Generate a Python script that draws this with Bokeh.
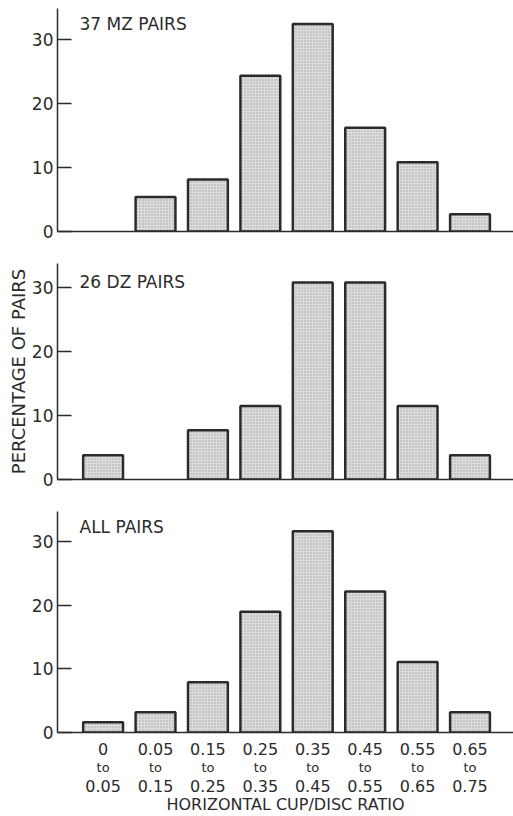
from bokeh.plotting import figure
from bokeh.models import Range1d, FixedTicker, LinearAxis, Label, ColumnDataSource
from bokeh.layouts import column
from bokeh.embed import file_html
from bokeh.resources import INLINE

# ---- data ----
bin_low = ["0", "0.05", "0.15", "0.25", "0.35", "0.45", "0.55", "0.65"]
bin_high = ["0.05", "0.15", "0.25", "0.35", "0.45", "0.55", "0.65", "0.75"]
mz_pct = [0, 5.4, 8.1, 24.3, 32.4, 16.2, 10.8, 2.7]
dz_pct = [3.8, 0, 7.7, 11.5, 30.8, 30.8, 11.5, 3.8]
all_pct = [1.6, 3.2, 7.9, 19.0, 31.7, 22.2, 11.1, 3.2]
panel_titles = ["37 MZ PAIRS", "26 DZ PAIRS", "ALL PAIRS"]
y_ticks = [0, 10, 20, 30]
y_label = "PERCENTAGE OF PAIRS"
x_label = "HORIZONTAL CUP/DISC RATIO"

INK = "#2b2b2b"
FONT = "DejaVu Sans"
W = 513
XR = (-0.87, 7.83)
positions = list(range(len(bin_low)))


def make_panel(values, title, height, border_top, border_bottom, y_end, title_y,
               show_ylabel=False):
    p = figure(width=W, height=height, output_backend="svg", toolbar_location=None,
               x_range=Range1d(*XR), y_range=Range1d(0, y_end),
               min_border_left=57, min_border_right=0,
               min_border_top=border_top, min_border_bottom=border_bottom)
    p.outline_line_color = None
    p.grid.visible = False
    p.background_fill_color = "white"
    p.border_fill_color = "white"

    xs = [x for x, v in zip(positions, values) if v > 0]
    vs = [v for v in values if v > 0]
    src = ColumnDataSource(dict(x=xs, top=vs))
    p.vbar(x="x", top="top", bottom=0, width=0.76, source=src,
           fill_color="#dcdcdc", line_color=INK, line_width=2.5,
           hatch_pattern="dot", hatch_color="#8c8c8c", hatch_scale=3,
           hatch_weight=0.7, hatch_alpha=0.7)

    ya = p.yaxis[0]
    ya.ticker = FixedTicker(ticks=y_ticks)
    ya.axis_line_color = INK
    ya.axis_line_width = 1.5
    ya.major_tick_in = 14
    ya.major_tick_out = 0
    ya.major_tick_line_color = INK
    ya.major_tick_line_width = 1.5
    ya.minor_tick_line_color = None
    ya.major_label_standoff = 4
    ya.major_label_text_font = FONT
    ya.major_label_text_font_size = "17px"
    ya.major_label_text_color = INK
    if show_ylabel:
        ya.axis_label = y_label
        ya.axis_label_standoff = 0
        ya.axis_label_text_font = FONT
        ya.axis_label_text_font_size = "18px"
        ya.axis_label_text_font_style = "normal"
        ya.axis_label_text_color = INK

    xa = p.xaxis[0]
    xa.ticker = FixedTicker(ticks=positions)
    xa.axis_line_color = INK
    xa.axis_line_width = 1.5
    xa.major_tick_in = 0
    xa.major_tick_out = 0
    xa.minor_tick_line_color = None
    xa.major_label_text_font = FONT
    xa.major_label_text_color = INK

    p.add_layout(Label(x=-0.45, y=title_y, text=title, text_baseline="middle",
                       text_font=FONT, text_font_size="17px", text_color=INK))
    return p


top = make_panel(mz_pct, panel_titles[0], 247, 8, 16, 34.8, 32.45)
top.xaxis[0].ticker = FixedTicker(ticks=[])
top.xaxis[0].major_label_standoff = 0

mid = make_panel(dz_pct, panel_titles[1], 247, 16, 15, 33.75, 30.8, show_ylabel=True)
mid.xaxis[0].ticker = FixedTicker(ticks=[])
mid.xaxis[0].major_label_standoff = 0

bot = make_panel(all_pct, panel_titles[2], 322, 17, 0, 34.8, 32.3)
xa = bot.xaxis[0]
xa.major_label_overrides = {i: s for i, s in zip(positions, bin_low)}
xa.major_label_text_font_size = "16px"
xa.major_label_standoff = 10


def extra_axis(labels, size, standoff, label=None):
    ax = LinearAxis(ticker=FixedTicker(ticks=positions),
                    major_label_overrides={i: s for i, s in zip(positions, labels)})
    ax.axis_line_color = None
    ax.major_tick_line_color = None
    ax.minor_tick_line_color = None
    ax.major_tick_in = 0
    ax.major_tick_out = 0
    ax.major_label_standoff = standoff
    ax.major_label_text_font = FONT
    ax.major_label_text_font_size = size
    ax.major_label_text_color = INK
    if label:
        ax.axis_label = label
        ax.axis_label_standoff = 0
        ax.axis_label_text_font = FONT
        ax.axis_label_text_font_size = "16px"
        ax.axis_label_text_font_style = "normal"
        ax.axis_label_text_color = INK
    return ax


bot.add_layout(extra_axis(["to"] * len(positions), "13px", 2), "below")
bot.add_layout(extra_axis(bin_high, "16px", 2, x_label), "below")

layout = column(top, mid, bot, spacing=0)
open("out.html", "w").write(file_html(layout, INLINE))
